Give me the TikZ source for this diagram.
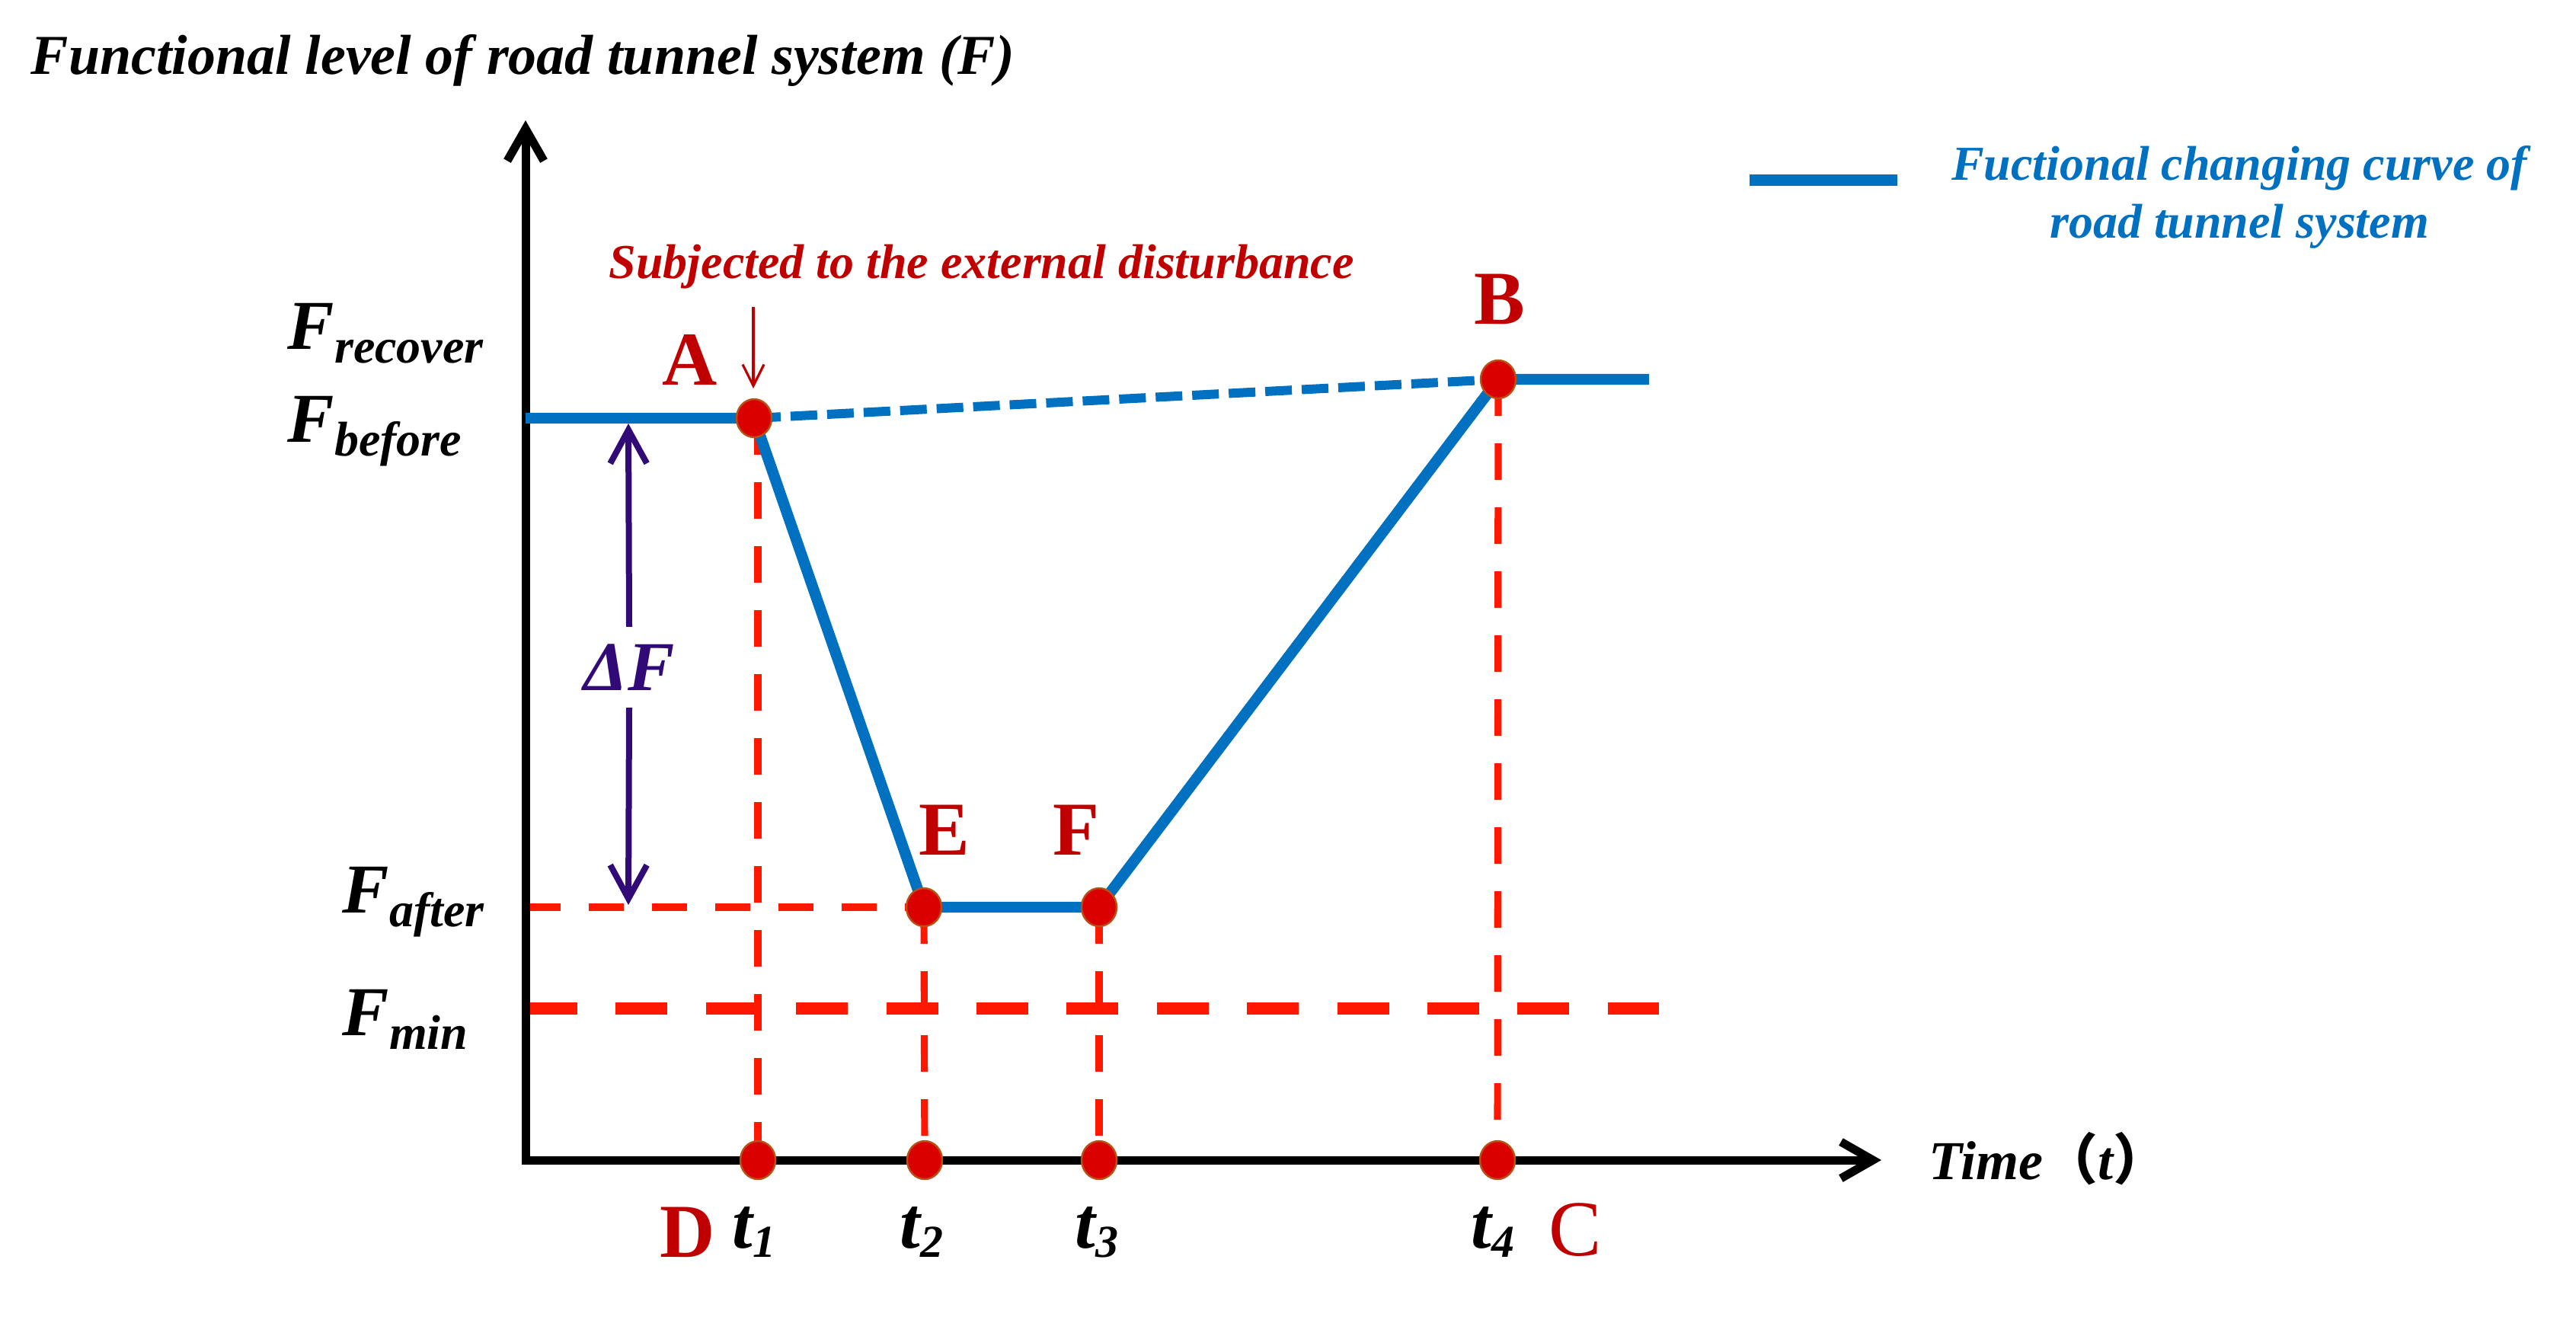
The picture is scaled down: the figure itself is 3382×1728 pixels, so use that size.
\documentclass[tikz,border=0pt]{standalone}
\usepackage{fontspec}
\setmainfont{Liberation Serif}
\newfontfamily\cjk{Noto Sans CJK SC}
\usetikzlibrary{arrows.meta,shapes.geometric}
\definecolor{curveblue}{RGB}{0,112,192}
\definecolor{dashred}{RGB}{255,24,0}
\definecolor{dotred}{RGB}{218,0,0}
\definecolor{dotedge}{RGB}{185,80,20}
\definecolor{labred}{RGB}{192,0,0}
\definecolor{deltapurple}{RGB}{50,10,120}
\newcommand\myfs[1]{\fontsize{#1}{#1}\selectfont}
\newcommand\sublab[5]{{\myfs{#1}#2}\raisebox{-#5}{\myfs{#3}#4}}
\tikzset{
  axisline/.style={line width=2.75pt, line join=miter,
    {Straight Barb[length=10.5pt,width=12pt,line width=2.75pt]}-{Straight Barb[length=10.5pt,width=12pt,line width=2.75pt]}},
  curve/.style={curveblue, line width=3.6pt, line join=round},
  curvedash/.style={curveblue, line width=3pt, dash pattern=on 8.75pt off 3.25pt},
  vguide/.style={dashred, line width=2.3pt, dash pattern=on 12pt off 9pt},
  hguide/.style={dashred, line width=2.5pt, dash pattern=on 11.5pt off 9.25pt},
  minline/.style={dashred, line width=4pt, dash pattern=on 17pt off 12.6pt},
  dot/.style={ellipse, fill=dotred, draw=dotedge, line width=0.6pt,
    minimum width=11.5pt, minimum height=12.5pt, inner sep=0pt},
  letter/.style={text=labred, font=\myfs{25}\bfseries, inner sep=0pt, anchor=base},
  tlab/.style={font=\bfseries\itshape, inner sep=0pt, anchor=base},
  flab/.style={font=\bfseries\itshape, inner sep=0pt, anchor=base west},
  dfarrow/.style={deltapurple, line width=2pt, -{Straight Barb[length=11pt,width=12pt,line width=2pt]}},
  hitarrow/.style={labred, line width=0.8pt, -{Straight Barb[length=7pt,width=7pt,line width=0.8pt]}}
}
\begin{document}
\begin{tikzpicture}[x=0.25pt,y=-0.25pt]
\useasboundingbox (0,0) rectangle (3382,1728);
% key coordinates
\coordinate (O) at (690,1523);
\coordinate (ytip) at (690,158);
\coordinate (xtip) at (2470,1523);
\coordinate (Lstart) at (690,549);
\coordinate (pA) at (990,549);
\coordinate (pE) at (1213,1191);
\coordinate (pF) at (1443,1191);
\coordinate (pB) at (1967,498);
\coordinate (Bend) at (2165,498);
\coordinate (pt1) at (995,1523);
\coordinate (pt2) at (1214,1523);
\coordinate (pt3) at (1443,1523);
\coordinate (pt4) at (1966,1523);
\coordinate (minL) at (690,1324);
\coordinate (minR) at (2178,1324);
\coordinate (hitS) at (989,403);
\coordinate (hitE) at (989,510);
\coordinate (dFtop) at (825,556);
\coordinate (dFbot) at (825,1188);
\coordinate (legL) at (2297,236);
\coordinate (legR) at (2491,236);

% title
\node[flab, font=\myfs{18.5}\bfseries\itshape] (title) at (40,97) {Functional level of road tunnel system (F)};

% guides
\draw[vguide] (pt1 |- pA) -- (pt1);
\draw[vguide] (pE) -- (pt2);
\draw[vguide] (pF) -- (pt3);
\draw[vguide] (pB) -- (pt4);
\draw[hguide] (O |- pE) -- (pE);
\draw[minline] (minL) -- (minR);

% axes
\draw[axisline] (ytip) -- (O) -- (xtip);

% curve
\draw[curvedash] (pA) -- (pB);
\draw[curve] (Lstart) -- (pA) -- (pE) -- (pF) -- (pB) -- (Bend);

% dots
\node[dot] (A) at (pA) {};
\node[dot] (E) at (pE) {};
\node[dot] (F) at (pF) {};
\node[dot] (B) at (pB) {};
\node[dot] (t1) at (pt1) {};
\node[dot] (t2) at (pt2) {};
\node[dot] (t3) at (pt3) {};
\node[dot] (t4) at (pt4) {};

% point labels
\node[letter] (labA) at (906,505) {A};
\node[letter] (labB) at (1969,425) {B};
\node[letter] (labE) at (1240,1122) {E};
\node[letter] (labF) at (1413,1122) {F};
\node[letter] (labD) at (903,1650) {D};
\node[letter, font=\myfs{26}] (labC) at (2068,1648) {C};

% time labels
\node[tlab] (lt1) at (990,1638) {\sublab{24}{t}{15}{1}{3pt}};
\node[tlab] (lt2) at (1210,1638) {\sublab{24}{t}{15}{2}{3pt}};
\node[tlab] (lt3) at (1440,1638) {\sublab{24}{t}{15}{3}{3pt}};
\node[tlab] (lt4) at (1960,1638) {\sublab{24}{t}{15}{4}{3pt}};
\node[flab, font=\myfs{18}\bfseries\itshape] (timelab) at (2532,1548) {Time{\cjk （}t{\cjk ）}};

% level labels
\node[flab] (Frec) at (377,458) {\sublab{23}{F}{16}{recover}{4.5pt}};
\node[flab] (Fbef) at (377,580) {\sublab{23}{F}{16}{before}{4.5pt}};
\node[flab] (Faft) at (449,1198) {\sublab{23}{F}{16}{after}{4.5pt}};
\node[flab] (Fmin) at (449,1359) {\sublab{23}{F}{16}{min}{4.5pt}};

% delta F
\node[inner sep=5.5pt, text=deltapurple, font=\myfs{23}\bfseries\itshape] (dF) at (826,876) {ΔF};
\draw[dfarrow] (dF.north) -- (dFtop);
\draw[dfarrow] (dF.south) -- (dFbot);

% disturbance
\node[flab, text=labred, font=\myfs{16}\bfseries\itshape] (dist) at (799,365) {Subjected to the external disturbance};
\draw[hitarrow] (hitS) -- (hitE);

% legend
\draw[curveblue, line width=3.75pt] (legL) -- (legR);
\node[align=center, inner sep=0pt, text=curveblue, font=\fontsize{16}{19}\selectfont\bfseries\itshape] (legtext) at (2940,259) {Fuctional changing curve of\\road tunnel system};
\end{tikzpicture}
\end{document}
